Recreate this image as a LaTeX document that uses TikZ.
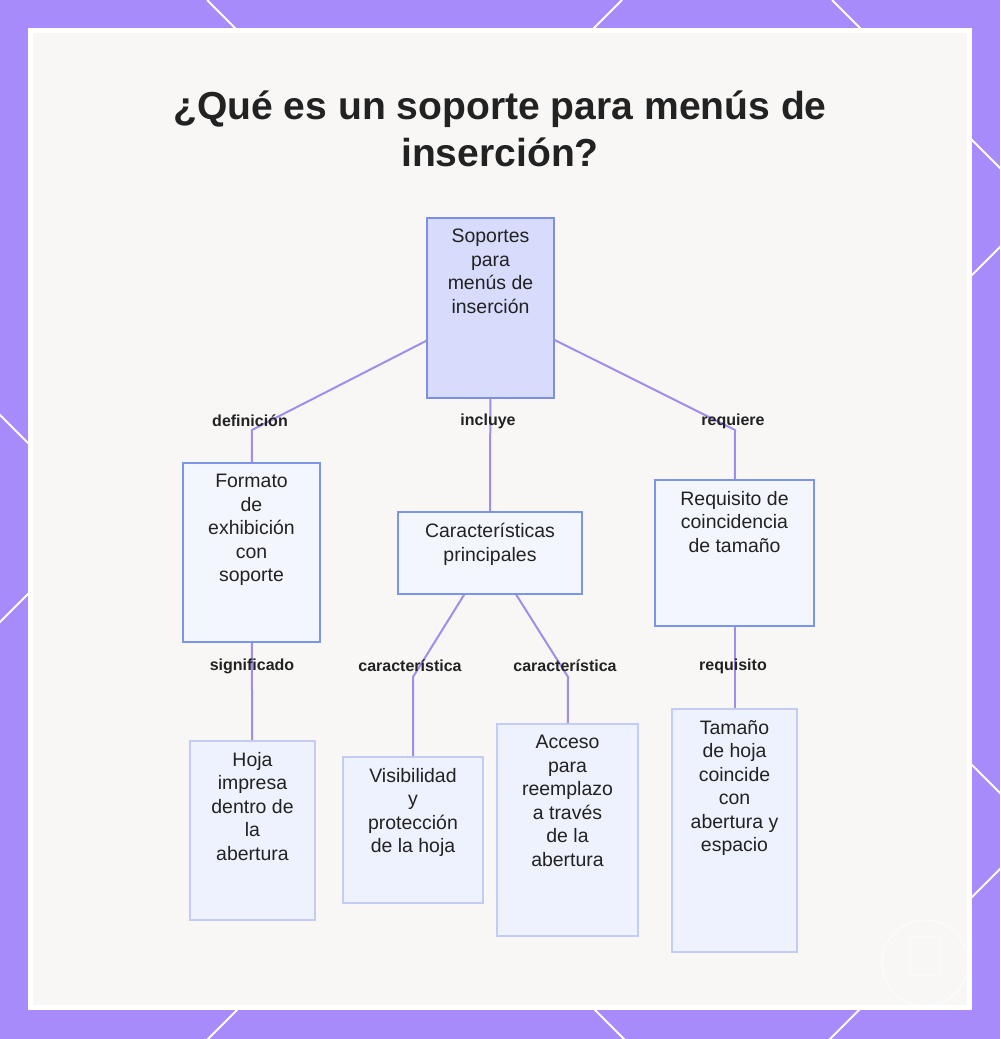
\documentclass[tikz,border=0pt]{standalone}
\usepackage{fontspec}
\setmainfont{Liberation Sans}
\usetikzlibrary{positioning}

\definecolor{framec}{HTML}{A78BFA}
\definecolor{panelc}{HTML}{F8F7F6}
\definecolor{linkc}{HTML}{A48CEA}
\definecolor{rootfill}{HTML}{D7DBFC}
\definecolor{rootdraw}{HTML}{7D8FE0}
\definecolor{midfill}{HTML}{F4F6FE}
\definecolor{middraw}{HTML}{7D95E6}
\definecolor{leaffill}{HTML}{EEF1FE}
\definecolor{leafdraw}{HTML}{C3CCF4}
\definecolor{textc}{HTML}{222222}

% one pixel of the picture
\newdimen\pxu \pxu=0.75pt
% box text: width, height, lines
\newcommand{\boxtext}[3]{\parbox[c][#2\pxu][t]{#1\pxu}{\centering\vspace*{8.5pt}#3}}

\begin{document}
\begin{tikzpicture}[
    x=0.75pt, y=-0.75pt,
    title/.style={font=\fontsize{29.3}{35}\selectfont\bfseries, text=textc, align=center},
    rootbox/.style={rectangle, draw=rootdraw, fill=rootfill, line width=1.2pt, inner sep=0pt, text=textc, font=\fontsize{14.6}{17.6}\selectfont},
    midbox/.style={rectangle, draw=middraw, fill=midfill, line width=1.2pt, inner sep=0pt, text=textc, font=\fontsize{14.6}{17.6}\selectfont},
    leafbox/.style={rectangle, draw=leafdraw, fill=leaffill, line width=1.2pt, inner sep=0pt, text=textc, font=\fontsize{14.6}{17.6}\selectfont},
    link/.style={draw=linkc, line width=1.5pt},
    lbl/.style={font=\fontsize{12}{14}\selectfont\bfseries, text=textc}
]
\useasboundingbox (0,0) rectangle (1000,1039);

% Frame
\fill[framec] (0,0) rectangle (1000,1039);
\begin{scope}
\clip (0,0) rectangle (1000,1039);
\foreach \c in {207,832,-415}
    \draw[white, line width=1.5pt] (\c,0) -- ++(1100,1100);
\foreach \c in {622,1247,1869}
    \draw[white, line width=1.5pt] (\c,0) -- ++(-1100,1100);
\end{scope}
\fill[white] (28,28) rectangle (972,1010);
\fill[panelc] (33,33) rectangle (967,1005);
\draw[white, line width=0.5pt] (925,963) circle (43);
\draw[white, line width=0.5pt, rounded corners=1pt] (910,937) rectangle (940,975);

% Title
\node[title] (title) at (500,129) {¿Qué es un soporte para menús de\\inserción?};

% Boxes
\node[rootbox] (root) at (490.5,308) {\boxtext{127}{180}{Soportes\\para\\menús de\\inserción}};
\node[midbox] (formato) at (251.5,552.5) {\boxtext{137}{179}{Formato\\de\\exhibición\\con\\soporte}};
\node[midbox] (caract) at (490,553) {\boxtext{184}{82}{Características\\principales}};
\node[midbox] (requisito) at (734.5,553) {\boxtext{159}{146}{Requisito de\\coincidencia\\de tamaño}};
\node[leafbox] (hoja) at (252.5,830.5) {\boxtext{125}{179}{Hoja\\impresa\\dentro de\\la\\abertura}};
\node[leafbox] (visib) at (413,830) {\boxtext{140}{146}{Visibilidad\\y\\protección\\de la hoja}};
\node[leafbox] (acceso) at (567.5,830) {\boxtext{141}{212}{Acceso\\para\\reemplazo\\a través\\de la\\abertura}};
\node[leafbox] (tamano) at (734.5,830.5) {\boxtext{125}{243}{Tamaño\\de hoja\\coincide\\con\\abertura y\\espacio}};

% Bends
\coordinate (b1) at (252,430);
\coordinate (b3) at (735,430);
\coordinate (b4) at (413,677);
\coordinate (b5) at (568,677);

% Relations
\draw[link] (root) -- (b1) -- (formato);
\draw[link] (root) -- (caract);
\draw[link] (root) -- (b3) -- (requisito);
\draw[link] (formato) -- (hoja);
\draw[link] (caract) -- (b4) -- (visib);
\draw[link] (caract) -- (b5) -- (acceso);
\draw[link] (requisito) -- (tamano);

% Labels
\node[lbl] (ldef) at (250,421) {definición};
\node[lbl] (linc) at (488,421) {incluye};
\node[lbl] (lreq) at (733,421) {requiere};
\node[lbl] (lsig) at (252,666) {significado};
\node[lbl] (lcar1) at (410,666) {característica};
\node[lbl] (lcar2) at (565,666) {característica};
\node[lbl] (lreq2) at (733,666) {requisito};

\end{tikzpicture}
\end{document}
